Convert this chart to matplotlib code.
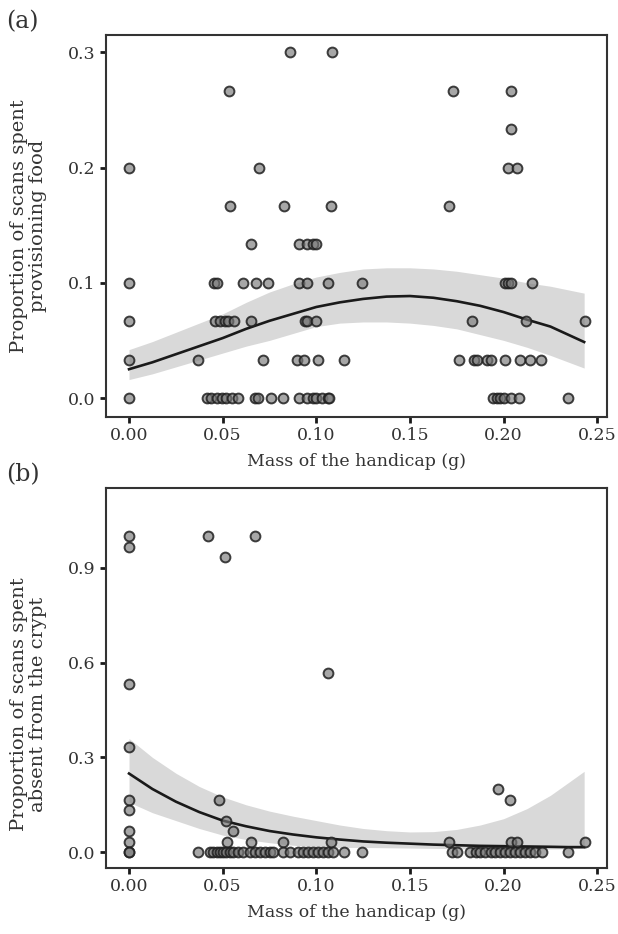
import matplotlib

matplotlib.use("Agg")
import matplotlib.pyplot as plt

# ---- panel (a): provisioning food ----
a_x = [0.000, 0.000, 0.000, 0.000, 0.000,
       0.086, 0.1085, 0.0534, 0.0695, 0.054, 0.083, 0.108,
       0.173, 0.204, 0.204, 0.2025, 0.207, 0.171,
       0.065, 0.091, 0.095, 0.098, 0.100,
       0.0455, 0.047, 0.061, 0.068, 0.074, 0.091, 0.095, 0.106, 0.1245,
       0.201, 0.2025, 0.204, 0.215,
       0.046, 0.0486, 0.051, 0.053, 0.056, 0.065, 0.094, 0.095, 0.100,
       0.183, 0.212, 0.2436,
       0.037, 0.0715, 0.0896, 0.0935, 0.101, 0.115,
       0.176, 0.184, 0.186, 0.191, 0.193, 0.201, 0.209, 0.214, 0.220,
       0.0415, 0.044, 0.047, 0.0497, 0.052, 0.055, 0.058, 0.067, 0.069,
       0.076, 0.082, 0.091, 0.095, 0.098, 0.100, 0.103, 0.106, 0.107,
       0.1945, 0.1965, 0.198, 0.200, 0.204, 0.208, 0.2345]
a_y = [0.2, 0.1, 0.0667, 0.0333, 0.0,
       0.3, 0.3, 0.2667, 0.2, 0.1667, 0.1667, 0.1667,
       0.2667, 0.2667, 0.2333, 0.2, 0.2, 0.1667,
       0.1333, 0.1333, 0.1333, 0.1333, 0.1333,
       0.1, 0.1, 0.1, 0.1, 0.1, 0.1, 0.1, 0.1, 0.1,
       0.1, 0.1, 0.1, 0.1,
       0.0667, 0.0667, 0.0667, 0.0667, 0.0667, 0.0667, 0.0667, 0.0667, 0.0667,
       0.0667, 0.0667, 0.0667,
       0.0333, 0.0333, 0.0333, 0.0333, 0.0333, 0.0333,
       0.0333, 0.0333, 0.0333, 0.0333, 0.0333, 0.0333, 0.0333, 0.0333, 0.0333,
       0.0, 0.0, 0.0, 0.0, 0.0, 0.0, 0.0, 0.0, 0.0,
       0.0, 0.0, 0.0, 0.0, 0.0, 0.0, 0.0, 0.0, 0.0,
       0.0, 0.0, 0.0, 0.0, 0.0, 0.0, 0.0]

a_fit_x = [0.0, 0.0125, 0.025, 0.0375, 0.05, 0.0625, 0.075, 0.0875, 0.1, 0.1125,
           0.125, 0.1375, 0.15, 0.1625, 0.175, 0.1875, 0.2, 0.2125, 0.225, 0.243]
a_fit = [0.025, 0.031, 0.038, 0.045, 0.052, 0.060, 0.067, 0.073, 0.079, 0.083,
         0.086, 0.088, 0.0885, 0.087, 0.084, 0.080, 0.0746, 0.068, 0.062, 0.0486]
a_lo = [0.016, 0.021, 0.027, 0.033, 0.039, 0.045, 0.050, 0.056, 0.062, 0.065,
        0.066, 0.066, 0.065, 0.063, 0.060, 0.055, 0.050, 0.044, 0.037, 0.026]
a_hi = [0.042, 0.049, 0.057, 0.065, 0.073, 0.083, 0.092, 0.099, 0.105, 0.109,
        0.112, 0.113, 0.113, 0.112, 0.110, 0.107, 0.104, 0.100, 0.097, 0.091]

# ---- panel (b): absent from the crypt ----
b_x = [0.000, 0.000, 0.000, 0.000, 0.000, 0.000, 0.000, 0.000, 0.000, 0.000,
       0.042, 0.0673, 0.051, 0.106,
       0.048, 0.052, 0.0555, 0.0525, 0.065, 0.082, 0.108,
       0.197, 0.2035, 0.171, 0.204, 0.207, 0.2436,
       0.037, 0.043, 0.045, 0.047, 0.0486, 0.050, 0.052, 0.054, 0.0556, 0.058,
       0.061, 0.0646, 0.067, 0.070, 0.0727, 0.0753, 0.077, 0.082, 0.086,
       0.090, 0.093, 0.0956, 0.098, 0.101, 0.1036, 0.106, 0.109, 0.115, 0.1245,
       0.1725, 0.175, 0.182, 0.185, 0.1875, 0.190, 0.193, 0.1955, 0.198,
       0.201, 0.2035, 0.206, 0.209, 0.2115, 0.214, 0.217, 0.2206, 0.2345]
b_y = [1.0, 0.9667, 0.5333, 0.3333, 0.1667, 0.1333, 0.0667, 0.0333, 0.0, 0.0,
       1.0, 1.0, 0.9333, 0.5667,
       0.1667, 0.1, 0.0667, 0.0333, 0.0333, 0.0333, 0.0333,
       0.2, 0.1667, 0.0333, 0.0333, 0.0333, 0.0333,
       0.0, 0.0, 0.0, 0.0, 0.0, 0.0, 0.0, 0.0, 0.0, 0.0,
       0.0, 0.0, 0.0, 0.0, 0.0, 0.0, 0.0, 0.0, 0.0,
       0.0, 0.0, 0.0, 0.0, 0.0, 0.0, 0.0, 0.0, 0.0, 0.0,
       0.0, 0.0, 0.0, 0.0, 0.0, 0.0, 0.0, 0.0, 0.0,
       0.0, 0.0, 0.0, 0.0, 0.0, 0.0, 0.0, 0.0, 0.0]

b_fit_x = [0.0, 0.0125, 0.025, 0.0375, 0.05, 0.0625, 0.075, 0.0875, 0.1, 0.1125,
           0.125, 0.1375, 0.15, 0.1625, 0.175, 0.1875, 0.2, 0.2125, 0.225, 0.2345, 0.243]
b_fit = [0.249, 0.200, 0.160, 0.127, 0.100, 0.082, 0.067, 0.056, 0.047, 0.040,
         0.034, 0.030, 0.027, 0.024, 0.022, 0.020, 0.019, 0.018, 0.017, 0.016, 0.016]
b_lo = [0.158, 0.125, 0.100, 0.075, 0.054, 0.040, 0.030, 0.022, 0.016, 0.015,
        0.015, 0.014, 0.013, 0.012, 0.011, 0.010, 0.009, 0.009, 0.010, 0.011, 0.012]
b_hi = [0.360, 0.300, 0.250, 0.208, 0.175, 0.150, 0.130, 0.114, 0.100, 0.086,
        0.075, 0.068, 0.064, 0.065, 0.072, 0.086, 0.106, 0.138, 0.180, 0.220, 0.256]

x_ticks = [0.00, 0.05, 0.10, 0.15, 0.20, 0.25]
x_ticklabels = ["0.00", "0.05", "0.10", "0.15", "0.20", "0.25"]

plt.rcParams["font.family"] = ["DejaVu Serif"]
plt.rcParams["font.size"] = 12

fig = plt.figure(figsize=(6.18, 9.34), dpi=100)
ax_a = fig.add_axes([0.1715, 0.5535, 0.811, 0.409])
ax_b = fig.add_axes([0.1715, 0.0707, 0.811, 0.4068])


def panel(ax, xs, ys, fx, fit, lo, hi, ylim, yticks, ylabel, label_y, letter):
    ax.fill_between(fx, lo, hi, color="#d9d9d9", lw=0, zorder=1)
    ax.plot(fx, fit, color="#1a1a1a", lw=1.9, zorder=2)
    ax.scatter(xs, ys, s=50, facecolor=(0.47, 0.47, 0.47, 0.65),
               edgecolor=(0.12, 0.12, 0.12, 0.85), linewidth=1.4, zorder=3)
    ax.set_xlim(-0.0123, 0.2553)
    ax.set_ylim(*ylim)
    ax.set_xticks(x_ticks)
    ax.set_xticklabels(x_ticklabels)
    ax.set_yticks(yticks)
    ax.set_yticklabels([f"{t:.1f}" for t in yticks])
    for s in ax.spines.values():
        s.set_linewidth(1.5)
        s.set_color("#333333")
    ax.tick_params(direction="out", length=4, width=2, color="#1a1a1a",
                   labelsize=12.5, labelcolor="#333333")
    ax.set_xlabel("Mass of the handicap (g)", fontsize=12.5, color="#333333", labelpad=6)
    ax.set_ylabel(ylabel, fontsize=14, color="#333333", linespacing=1.05)
    ax.yaxis.set_label_coords(-0.118, label_y)
    ax.text(-0.2, 1.035, letter, transform=ax.transAxes, fontsize=17,
            color="#333333", va="center", ha="left")


panel(ax_a, a_x, a_y, a_fit_x, a_fit, a_lo, a_hi, (-0.0165, 0.315),
      [0.0, 0.1, 0.2, 0.3], "Proportion of scans spent\nprovisioning food", 0.5, "(a)")
panel(ax_b, b_x, b_y, b_fit_x, b_fit, b_lo, b_hi, (-0.05, 1.153),
      [0.0, 0.3, 0.6, 0.9], "Proportion of scans spent\nabsent from the crypt", 0.43, "(b)")

fig.savefig("out.png", dpi=100)
